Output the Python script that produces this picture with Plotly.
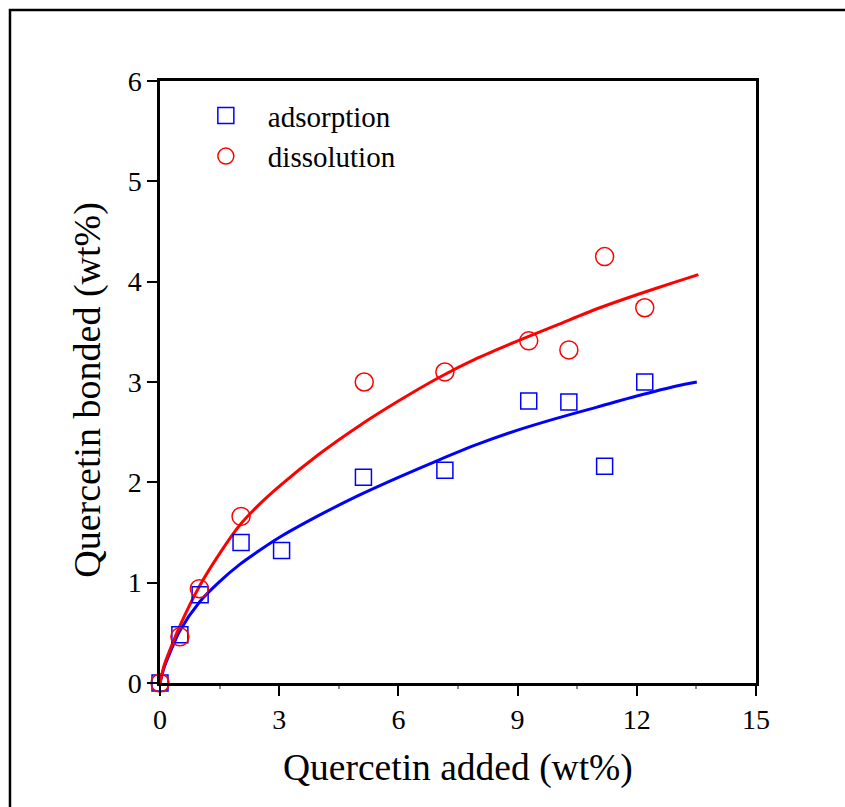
import plotly.graph_objects as go

# Measured data points
ads_x = [0, 0.5, 1.01, 2.04, 3.06, 5.12, 7.17, 9.28, 10.29, 11.19, 12.2]
ads_y = [0, 0.48, 0.88, 1.40, 1.32, 2.05, 2.12, 2.81, 2.80, 2.16, 3.00]
dis_x = [0, 0.5, 0.99, 2.04, 5.14, 7.17, 9.28, 10.29, 11.19, 12.2]
dis_y = [0, 0.46, 0.94, 1.66, 3.00, 3.10, 3.41, 3.32, 4.25, 3.74]

# Fitted curves
fit_ads_x = [0, 0.1, 0.25, 0.5, 1, 1.5, 2, 2.5, 3, 4, 5, 6, 7, 8, 9, 10, 11, 12, 13, 13.51]
fit_ads_y = [0, 0.15, 0.30, 0.52, 0.81, 1.01, 1.18, 1.32, 1.45, 1.67, 1.87, 2.05, 2.22, 2.38, 2.52, 2.64, 2.75, 2.86, 2.96, 3.00]
fit_dis_x = [0, 0.1, 0.25, 0.5, 1, 1.5, 2, 2.5, 3, 4, 5, 6, 7, 8, 9, 10, 11, 12, 13, 13.55]
fit_dis_y = [0, 0.17, 0.33, 0.57, 0.97, 1.29, 1.57, 1.78, 1.96, 2.28, 2.56, 2.81, 3.04, 3.24, 3.41, 3.57, 3.73, 3.87, 4.00, 4.07]

x_ticks = [0, 3, 6, 9, 12, 15]
y_ticks = [0, 1, 2, 3, 4, 5, 6]
x_title = "Quercetin added (wt%)"
y_title = "Quercetin bonded (wt%)"

FONT = "Liberation Serif"
BLUE = "#0000FF"
RED = "#FF0000"

fig = go.Figure()
fig.add_trace(go.Scatter(x=fit_ads_x, y=fit_ads_y, mode="lines",
                         line=dict(color=BLUE, width=3, shape="spline", smoothing=0.8),
                         showlegend=False, cliponaxis=False, hoverinfo="skip"))
fig.add_trace(go.Scatter(x=fit_dis_x, y=fit_dis_y, mode="lines",
                         line=dict(color=RED, width=3, shape="spline", smoothing=0.8),
                         showlegend=False, cliponaxis=False, hoverinfo="skip"))
fig.add_trace(go.Scatter(x=ads_x, y=ads_y, mode="markers", name="adsorption",
                         marker=dict(symbol="square-open", size=16, color=BLUE,
                                     line=dict(color=BLUE, width=1.5)),
                         cliponaxis=False))
fig.add_trace(go.Scatter(x=dis_x, y=dis_y, mode="markers", name="dissolution",
                         marker=dict(symbol="circle-open", size=18, color=RED,
                                     line=dict(color=RED, width=1.5)),
                         cliponaxis=False))

axis_common = dict(
    showgrid=False, zeroline=False, showline=True, linecolor="black", linewidth=2.5,
    mirror=True, ticks="outside", ticklen=10, tickwidth=2, tickcolor="black",
    tickfont=dict(family=FONT, size=28, color="black"),
)

fig.update_xaxes(range=[0, 15], tickvals=x_ticks, ticktext=[str(v) for v in x_ticks],
                 minor=dict(tickvals=[1.5, 4.5, 7.5, 10.5, 13.5], ticks="outside", ticklen=3, tickcolor="#888", tickwidth=1.5),
                 **axis_common)
fig.update_yaxes(range=[0, 6], tickvals=y_ticks, ticktext=[str(v) for v in y_ticks],
                 **axis_common)

fig.update_layout(
    width=845, height=807,
    margin=dict(l=160, r=89, t=81, b=124),
    paper_bgcolor="white", plot_bgcolor="white",
    font=dict(family=FONT, color="black"),
    legend=dict(x=0.04, y=0.985, xanchor="left", yanchor="top", bgcolor="rgba(0,0,0,0)",
                font=dict(family=FONT, size=29, color="black"), itemwidth=74, tracegroupgap=0),
    annotations=[
        dict(text=x_title, xref="paper", yref="paper", x=0.5, y=-0.141, xanchor="center", yanchor="middle",
             showarrow=False, font=dict(family=FONT, size=37.5, color="black")),
        dict(text=y_title, xref="paper", yref="paper", x=-0.121, y=0.487, xanchor="center", yanchor="middle",
             textangle=-90, showarrow=False, font=dict(family=FONT, size=38, color="black")),
    ],
    shapes=[dict(type="rect", xref="paper", yref="paper", x0=-0.2517, x1=1.2, y0=-0.25, y1=1.118,
                 line=dict(color="black", width=2.5), fillcolor="rgba(0,0,0,0)", layer="below")],
)

fig.write_html("out.html")
